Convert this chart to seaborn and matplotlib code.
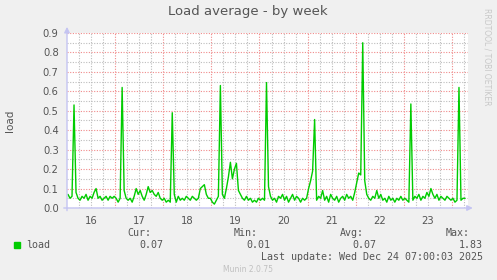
import numpy as np
import pandas as pd
import matplotlib
matplotlib.use("Agg")
import matplotlib.pyplot as plt
import seaborn as sns
from matplotlib.ticker import FixedLocator, FuncFormatter

# ---- data: hourly load average, hours since Dec 16 00:00 ----
day16 = [0.07, 0.05, 0.06, 0.53, 0.08, 0.05, 0.04, 0.06, 0.05, 0.07, 0.04, 0.06,
         0.05, 0.08, 0.10, 0.05, 0.06, 0.04, 0.05, 0.06, 0.04, 0.06, 0.05, 0.06]
day17 = [0.05, 0.03, 0.05, 0.62, 0.09, 0.05, 0.04, 0.05, 0.03, 0.06, 0.10, 0.07,
         0.09, 0.06, 0.04, 0.07, 0.11, 0.08, 0.09, 0.07, 0.06, 0.08, 0.05, 0.04]
day18 = [0.05, 0.03, 0.04, 0.03, 0.49, 0.07, 0.03, 0.06, 0.04, 0.05, 0.04, 0.06,
         0.05, 0.04, 0.06, 0.05, 0.04, 0.05, 0.10, 0.11, 0.12, 0.07, 0.05, 0.05]
day19 = [0.03, 0.02, 0.04, 0.06, 0.63, 0.07, 0.05, 0.10, 0.16, 0.235, 0.15, 0.20,
         0.23, 0.09, 0.07, 0.05, 0.04, 0.06, 0.04, 0.05, 0.03, 0.04, 0.03, 0.05]
day20 = [0.04, 0.05, 0.04, 0.645, 0.11, 0.06, 0.04, 0.05, 0.03, 0.06, 0.05, 0.07,
         0.04, 0.06, 0.03, 0.05, 0.07, 0.04, 0.06, 0.05, 0.03, 0.05, 0.04, 0.05]
day21 = [0.10, 0.14, 0.19, 0.455, 0.04, 0.06, 0.05, 0.09, 0.04, 0.06, 0.03, 0.07,
         0.05, 0.04, 0.06, 0.03, 0.05, 0.06, 0.04, 0.07, 0.05, 0.06, 0.04, 0.08]
day22 = [0.13, 0.18, 0.17, 0.85, 0.14, 0.07, 0.05, 0.04, 0.06, 0.05, 0.09, 0.05,
         0.07, 0.04, 0.05, 0.03, 0.06, 0.04, 0.05, 0.03, 0.05, 0.04, 0.06, 0.04]
day23 = [0.05, 0.04, 0.03, 0.535, 0.04, 0.06, 0.05, 0.07, 0.04, 0.06, 0.05, 0.08,
         0.06, 0.10, 0.07, 0.05, 0.07, 0.04, 0.06, 0.05, 0.04, 0.06, 0.05, 0.04]
day24 = [0.05, 0.03, 0.04, 0.62, 0.04, 0.05, 0.05]

day_labels = ["16", "17", "18", "19", "20", "21", "22", "23"]
y_ticks = [0.0, 0.1, 0.2, 0.3, 0.4, 0.5, 0.6, 0.7, 0.8, 0.9]
stat_names = ["Cur:", "Min:", "Avg:", "Max:"]
stat_values = ["0.07", "0.01", "0.07", "1.83"]
series_name = "load"
title = "Load average - by week"
last_update = "Last update: Wed Dec 24 07:00:03 2025"

load = day16 + day17 + day18 + day19 + day20 + day21 + day22 + day23 + day24
hours = np.arange(len(load)) + 0.5
df = pd.DataFrame({"hours": hours, "load": load})

# ---- figure ----
sns.set_style("white")
plt.rcParams["font.family"] = ["DejaVu Sans"]
W, H = 497, 280
fig = plt.figure(figsize=(W / 100, H / 100), dpi=100, facecolor="#F0F0F0")
ax_left, ax_right, ax_top, ax_bot = 67, 468, 33, 208
ax = fig.add_axes([ax_left / W, 1 - ax_bot / H, (ax_right - ax_left) / W, (ax_bot - ax_top) / H])
ax.set_facecolor("white")

red = "#F08A8A"
gray = "#BDBDBD"
txt = "#555555"

ax.set_xlim(0, 200)
ax.set_ylim(0, 0.9)

# grid via ticks
day_bounds = [24 * i for i in range(1, 9)]
six_h = [6 * i for i in range(1, 34) if (6 * i) % 24 != 0]
ax.xaxis.set_major_locator(FixedLocator(day_bounds))
ax.xaxis.set_minor_locator(FixedLocator(six_h))
ax.xaxis.set_major_formatter(FuncFormatter(lambda v, p: ""))
noon_lab = {12 + 24 * i: lab for i, lab in enumerate(day_labels)}
ax.xaxis.set_minor_formatter(FuncFormatter(lambda v, p: noon_lab.get(int(round(v)), "")))
ax.yaxis.set_major_locator(FixedLocator(y_ticks))
ax.yaxis.set_minor_locator(FixedLocator([0.05 + 0.1 * i for i in range(9)]))
ax.yaxis.set_major_formatter(FuncFormatter(lambda v, p: f"{v:.1f}"))

ax.grid(which="minor", color=gray, linestyle=(0, (1, 1.4)), linewidth=0.8)
ax.grid(which="major", color=red, linestyle=(0, (1, 1.4)), linewidth=0.8)
ax.set_axisbelow(True)

ax.tick_params(which="both", length=0, colors=txt, labelsize=7.2)
ax.tick_params(axis="x", which="minor", pad=6)
ax.tick_params(axis="y", pad=6)

for s in ax.spines.values():
    s.set_visible(False)

sns.lineplot(data=df, x="hours", y="load", ax=ax, color="#00CC00", linewidth=1.0, legend=False)
ax.set_xlabel("")
ax.set_ylabel("")

# axes arrows
axis_col = "#C4C4F2"
ax.annotate("", xy=(0, 1.035), xytext=(0, -0.015), xycoords="axes fraction",
            arrowprops=dict(arrowstyle="-|>", color=axis_col, lw=1.0, mutation_scale=8,
                            shrinkA=0, shrinkB=0), annotation_clip=False)
ax.annotate("", xy=(1.012, 0), xytext=(-0.008, 0), xycoords="axes fraction",
            arrowprops=dict(arrowstyle="-|>", color=axis_col, lw=1.0, mutation_scale=8,
                            shrinkA=0, shrinkB=0), annotation_clip=False)

def fx(px):
    return px / W

def fy(py):
    return 1 - py / H

fig.text(fx(248), fy(12), title, ha="center", va="center", fontsize=9.5, color=txt)
fig.text(fx(10), fy(121), series_name, ha="center", va="center", rotation=90, fontsize=7.5, color=txt)
fig.text(fx(487), fy(57), "RRDTOOL / TOBI OETIKER", ha="center", va="center", rotation=270,
         fontsize=5.5, color="#C8C8C8")

mono = "DejaVu Sans Mono"
fs = 7.2
stat_right = [151, 258, 364, 470]
val_right = [163, 270, 376, 483]
for nm, xr in zip(stat_names, stat_right):
    fig.text(fx(xr), fy(233), nm, ha="right", va="center", family=mono, fontsize=fs, color=txt)
for vv, xr in zip(stat_values, val_right):
    fig.text(fx(xr), fy(244.5), vv, ha="right", va="center", family=mono, fontsize=fs, color=txt)
fig.patches.append(matplotlib.patches.Rectangle((fx(14), fy(247.5)), 5.5 / W, 5.5 / H,
                                                 transform=fig.transFigure, color="#00CC00"))
fig.text(fx(26), fy(244.5), series_name, ha="left", va="center", family=mono, fontsize=fs, color=txt)
fig.text(fx(483), fy(256.5), last_update, ha="right", va="center", family=mono, fontsize=fs, color=txt)
fig.text(fx(248), fy(269), "Munin 2.0.75", ha="center", va="center", fontsize=5.5, color="#C0C0C0")

fig.savefig("out.png", dpi=100, facecolor=fig.get_facecolor())
